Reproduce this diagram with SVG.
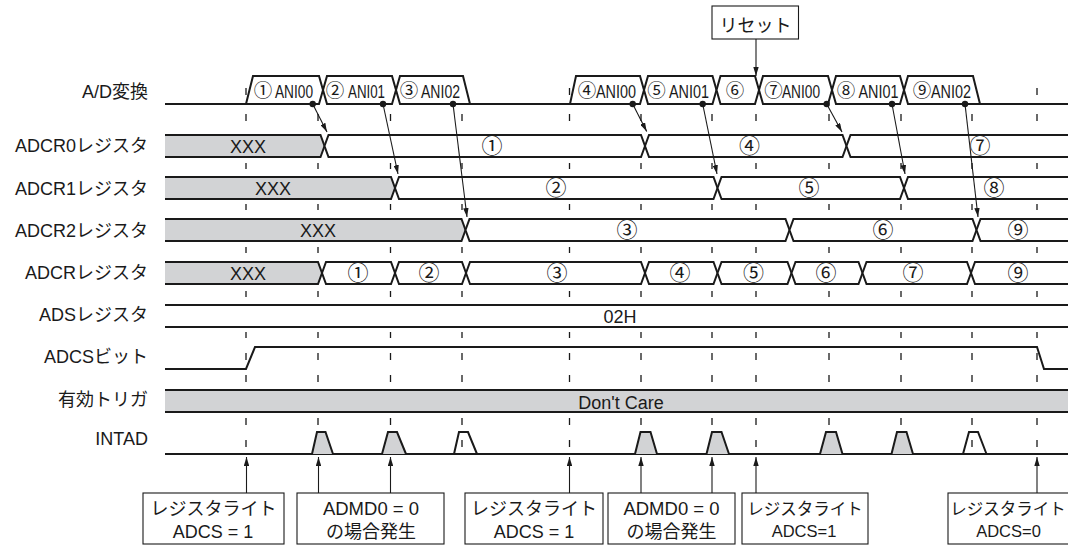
<svg xmlns="http://www.w3.org/2000/svg" xmlns:xlink="http://www.w3.org/1999/xlink" width="1068" height="545" viewBox="0 0 1068 545">
<style>
.sig{fill:none;stroke:#1a1a1a;stroke-width:2}
.w{fill:#fff;stroke:#1a1a1a;stroke-width:2;stroke-linejoin:miter}
.g{fill:#d2d3d5;stroke:#1a1a1a;stroke-width:2;stroke-linejoin:miter}
.gf{fill:#d2d3d5;stroke:none}
.dash{stroke:#1a1a1a;stroke-width:1.3;fill:none}
.lbl{font-family:"Liberation Sans","Noto Sans CJK JP",sans-serif;font-size:18px;fill:#1a1a1a;text-anchor:end}
.t{font-family:"Liberation Sans","Noto Sans CJK JP",sans-serif;font-size:18px;fill:#1a1a1a;text-anchor:middle}
.ts{font-family:"Liberation Sans","Noto Sans CJK JP",sans-serif;font-size:16.5px;fill:#1a1a1a;text-anchor:middle}
.c{font-family:"Noto Sans CJK JP",sans-serif;font-size:21px;fill:#1a1a1a;text-anchor:middle}
.ca{font-family:"Noto Sans CJK JP",sans-serif;font-size:18.5px;fill:#1a1a1a;text-anchor:middle}
.ani{font-family:"Liberation Sans",sans-serif;font-size:19px;fill:#1a1a1a}
.arr{stroke:#1a1a1a;stroke-width:1.1;fill:none;marker-end:url(#ah)}
.box{fill:#fff;stroke:#1a1a1a;stroke-width:1.1}
.dot{fill:#1a1a1a}
</style>
<defs>
<marker id="ah" viewBox="0 0 10 6" refX="10" refY="3" markerWidth="9" markerHeight="5.4" orient="auto" markerUnits="userSpaceOnUse"><path d="M0,0 L10,3 L0,6 Z" fill="#1a1a1a"/></marker>
<path id="dl" class="dash" d="M0,88V95M0,114V121M0,163V169M0,204V210M0,247V253M0,291V297M0,332V338M0,353V360M0,375V382M0,418V425M0,440V447"/>
</defs>
<rect width="1068" height="545" fill="#fff"/>

<g id="signal-labels">
<text class="lbl" x="148" y="98">A/D変換</text>
<text class="lbl" x="148" y="152">ADCR0レジスタ</text>
<text class="lbl" x="148" y="194.5">ADCR1レジスタ</text>
<text class="lbl" x="148" y="237">ADCR2レジスタ</text>
<text class="lbl" x="148" y="278.5">ADCRレジスタ</text>
<text class="lbl" x="148" y="320.5">ADSレジスタ</text>
<text class="lbl" x="148" y="363">ADCSビット</text>
<text class="lbl" x="148" y="406">有効トリガ</text>
<text class="lbl" x="148" y="445">INTAD</text>
</g>

<g id="grid">
<use xlink:href="#dl" x="246"/>
<use xlink:href="#dl" x="318"/>
<use xlink:href="#dl" x="390.5"/>
<use xlink:href="#dl" x="462"/>
<use xlink:href="#dl" x="569.5"/>
<use xlink:href="#dl" x="641"/>
<use xlink:href="#dl" x="712"/>
<use xlink:href="#dl" x="756"/>
<use xlink:href="#dl" x="829"/>
<use xlink:href="#dl" x="901"/>
<use xlink:href="#dl" x="972"/>
<use xlink:href="#dl" x="1037"/>
</g>

<g id="row-ad">
<path class="sig" d="M165,104 H246 M470,104 H570 M980,104 H1068"/>
<path class="w" d="M246,104 L253,76 H319 L323,90 L319,104 Z"/>
<path class="w" d="M323,90 L327,76 H392 L396,90 L392,104 H327 Z"/>
<path class="w" d="M396,90 L400,76 H463 L470,104 H400 Z"/>
<path class="w" d="M570,104 L576,76 H640 L644,90 L640,104 Z"/>
<path class="w" d="M644,90 L648,76 H712.5 L716.5,90 L712.5,104 H648 Z"/>
<path class="w" d="M716.5,90 L720.5,76 H755 L759,90 L755,104 H720.5 Z"/>
<path class="w" d="M759,90 L763,76 H828 L832,90 L828,104 H763 Z"/>
<path class="w" d="M832,90 L836,76 H900 L904,90 L900,104 H836 Z"/>
<path class="w" d="M904,90 L908,76 H973 L980,104 H908 Z"/>
<text class="ca" x="263" y="97">①</text><text class="ani" x="275" y="98" textLength="38" lengthAdjust="spacingAndGlyphs">ANI00</text>
<text class="ca" x="335" y="97">②</text><text class="ani" x="348" y="98" textLength="37" lengthAdjust="spacingAndGlyphs">ANI01</text>
<text class="ca" x="409" y="97">③</text><text class="ani" x="421" y="98" textLength="39" lengthAdjust="spacingAndGlyphs">ANI02</text>
<text class="ca" x="587" y="97">④</text><text class="ani" x="596" y="98" textLength="40" lengthAdjust="spacingAndGlyphs">ANI00</text>
<text class="ca" x="656.5" y="97">⑤</text><text class="ani" x="669" y="98" textLength="40" lengthAdjust="spacingAndGlyphs">ANI01</text>
<text class="ca" x="735" y="97">⑥</text>
<text class="ca" x="773.5" y="97">⑦</text><text class="ani" x="782" y="98" textLength="38" lengthAdjust="spacingAndGlyphs">ANI00</text>
<text class="ca" x="846" y="97">⑧</text><text class="ani" x="858.5" y="98" textLength="40" lengthAdjust="spacingAndGlyphs">ANI01</text>
<text class="ca" x="922" y="97">⑨</text><text class="ani" x="931" y="98" textLength="40" lengthAdjust="spacingAndGlyphs">ANI02</text>
<circle class="dot" cx="312.7" cy="104" r="3.2"/>
<circle class="dot" cx="383" cy="104" r="3.2"/>
<circle class="dot" cx="453" cy="104" r="3.2"/>
<circle class="dot" cx="632.7" cy="104" r="3.2"/>
<circle class="dot" cx="702.7" cy="104" r="3.2"/>
<circle class="dot" cx="826.7" cy="104" r="3.2"/>
<circle class="dot" cx="892" cy="104" r="3.2"/>
<circle class="dot" cx="965" cy="104" r="3.2"/>
</g>

<g id="row-adcr0">
<path class="g" d="M165,135 H320.5 L324.5,146 L320.5,157 H165"/>
<path class="w" d="M324.5,146 L328.5,135 H641 L645,146 L641,157 H328.5 Z"/>
<path class="w" d="M645,146 L649,135 H842.5 L846.5,146 L842.5,157 H649 Z"/>
<path class="w" d="M1068,135 H850.5 L846.5,146 L850.5,157 H1068"/>
<text class="t" x="248" y="152.5">XXX</text>
<text class="c" x="492" y="153.4">①</text>
<text class="c" x="749.5" y="153.4">④</text>
<text class="c" x="980" y="153.4">⑦</text>
</g>

<g id="row-adcr1">
<path class="g" d="M165,177 H391 L395,188 L391,199 H165"/>
<path class="w" d="M395,188 L399,177 H713.5 L717.5,188 L713.5,199 H399 Z"/>
<path class="w" d="M717.5,188 L721.5,177 H900 L904,188 L900,199 H721.5 Z"/>
<path class="w" d="M1068,177 H908 L904,188 L908,199 H1068"/>
<text class="t" x="273" y="194.5">XXX</text>
<text class="c" x="556" y="195.4">②</text>
<text class="c" x="809" y="195.4">⑤</text>
<text class="c" x="994" y="195.4">⑧</text>
</g>

<g id="row-adcr2">
<path class="g" d="M165,219 H461.5 L465.5,230 L461.5,241 H165"/>
<path class="w" d="M465.5,230 L469.5,219 H785.5 L789.5,230 L785.5,241 H469.5 Z"/>
<path class="w" d="M789.5,230 L793.5,219 H972.5 L976.5,230 L972.5,241 H793.5 Z"/>
<path class="w" d="M1068,219 H980.5 L976.5,230 L980.5,241 H1068"/>
<text class="t" x="318" y="236.5">XXX</text>
<text class="c" x="627" y="237.4">③</text>
<text class="c" x="883" y="237.4">⑥</text>
<text class="c" x="1018" y="237.4">⑨</text>
</g>

<g id="row-adcr">
<path class="g" d="M165,262 H318 L322,273 L318,284 H165"/>
<path class="w" d="M322,273 L326,262 H391 L395,273 L391,284 H326 Z"/>
<path class="w" d="M395,273 L399,262 H462 L466,273 L462,284 H399 Z"/>
<path class="w" d="M466,273 L470,262 H641 L645,273 L641,284 H470 Z"/>
<path class="w" d="M645,273 L649,262 H713.5 L717.5,273 L713.5,284 H649 Z"/>
<path class="w" d="M717.5,273 L721.5,262 H787.5 L791.5,273 L787.5,284 H721.5 Z"/>
<path class="w" d="M791.5,273 L795.5,262 H858.5 L862.5,273 L858.5,284 H795.5 Z"/>
<path class="w" d="M862.5,273 L866.5,262 H967 L971,273 L967,284 H866.5 Z"/>
<path class="w" d="M1068,262 H975 L971,273 L975,284 H1068"/>
<text class="t" x="248" y="279.5">XXX</text>
<text class="c" x="358" y="280.4">①</text>
<text class="c" x="429" y="280.4">②</text>
<text class="c" x="557" y="280.4">③</text>
<text class="c" x="680" y="280.4">④</text>
<text class="c" x="753.5" y="280.4">⑤</text>
<text class="c" x="826" y="280.4">⑥</text>
<text class="c" x="913" y="280.4">⑦</text>
<text class="c" x="1018" y="280.4">⑨</text>
</g>

<g id="row-ads">
<rect x="165" y="305" width="903" height="22" fill="#fff"/>
<path class="sig" d="M165,305 H1068 M165,327 H1068"/>
<text class="t" x="620" y="323">02H</text>
</g>

<g id="row-adcs">
<path class="sig" d="M165,369 H246 L255,347 H1037 L1044,369 H1068"/>
</g>

<g id="row-trigger">
<rect class="gf" x="165" y="390" width="903" height="22"/>
<path class="sig" d="M165,390 H1068 M165,412 H1068"/>
<text class="t" x="621" y="409">Don't Care</text>
</g>

<g id="row-intad">
<path class="sig" d="M165,454 H1068"/>
<path class="g" d="M312,454 L317,432 H325.5 L333,454"/>
<path class="g" d="M382,454 L388,432 H397 L406,454"/>
<path class="sig" d="M454,454 L459,432 H468 L477,454"/>
<path class="g" d="M635,454 L640.5,432 H650.5 L657,454"/>
<path class="g" d="M706.5,454 L712,432 H721.5 L729,454"/>
<path class="g" d="M820,454 L826,432 H836 L842.5,454"/>
<path class="g" d="M891.5,454 L897,432 H906.5 L913,454"/>
<path class="sig" d="M963,454 L969,432 H978 L986.5,454"/>
</g>

<g id="box-reset">
<rect class="box" x="712" y="6" width="86.5" height="33"/>
<text class="t" x="755.5" y="32">リセット</text>
</g>

<g id="box-write1">
<rect class="box" x="143" y="493" width="141" height="51"/>
<text class="t" x="213.5" y="515">レジスタライト</text>
<text class="t" x="213" y="537.5">ADCS = 1</text>
</g>
<g id="box-admd1">
<rect class="box" x="297" y="493" width="147" height="51"/>
<text class="t" x="371" y="515" style="font-size:18.5px">ADMD0 = 0</text>
<text class="t" x="371" y="537.5">の場合発生</text>
</g>
<g id="box-write2">
<rect class="box" x="465" y="493" width="138" height="51"/>
<text class="t" x="534" y="515">レジスタライト</text>
<text class="t" x="534" y="537.5">ADCS = 1</text>
</g>
<g id="box-admd2">
<rect class="box" x="608" y="493" width="127" height="51"/>
<text class="t" x="671.5" y="515" style="font-size:18.5px">ADMD0 = 0</text>
<text class="t" x="671.5" y="537.5">の場合発生</text>
</g>
<g id="box-write3">
<rect class="box" x="742" y="493" width="126" height="51"/>
<text class="ts" x="805" y="515">レジスタライト</text>
<text class="ts" x="804" y="537">ADCS=1</text>
</g>
<g id="box-write4">
<rect class="box" x="948" y="493" width="130" height="51"/>
<text class="ts" x="1008" y="515">レジスタライト</text>
<text class="ts" x="1008.5" y="537">ADCS=0</text>
</g>

<g id="connectors">
<path class="arr" d="M312.7,104 L327,132"/>
<path class="arr" d="M383,104 L398,174"/>
<path class="arr" d="M453,104 L467,217"/>
<path class="arr" d="M632.7,104 L646.7,131.5"/>
<path class="arr" d="M702.7,104 L717,174"/>
<path class="arr" d="M826.7,104 L842,132"/>
<path class="arr" d="M892,104 L905,174"/>
<path class="arr" d="M965,104 L978,217"/>
<path class="arr" d="M756,39 V76"/>
<path class="arr" d="M246.5,493 V457"/>
<path class="arr" d="M318.5,493 V457"/>
<path class="arr" d="M390.5,493 V457"/>
<path class="arr" d="M569.5,493 V457"/>
<path class="arr" d="M641,493 V457"/>
<path class="arr" d="M712,493 V457"/>
<path class="arr" d="M756,493 V457"/>
<path class="arr" d="M1037,493 V457"/>
</g>
</svg>
